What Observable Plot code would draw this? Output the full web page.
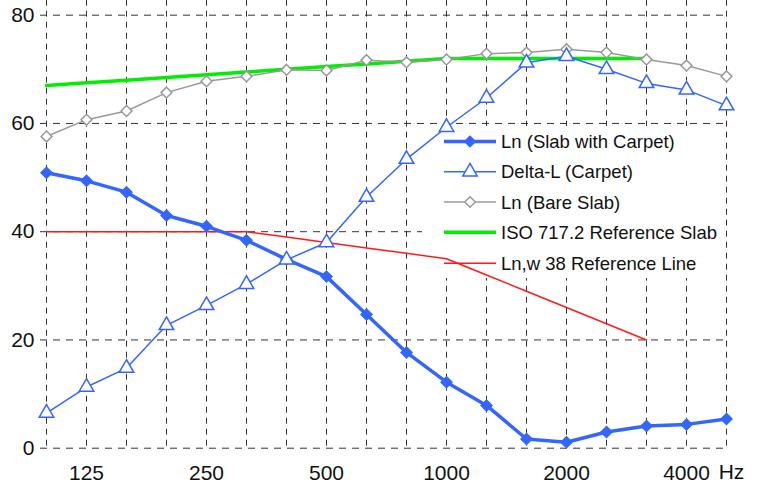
<!DOCTYPE html>
<html>
<head>
<meta charset="utf-8">
<script src="https://cdn.jsdelivr.net/npm/d3@7"></script>
<script src="https://cdn.jsdelivr.net/npm/@observablehq/plot@0.6"></script>
<style>
  html, body { margin: 0; padding: 0; background: #fff; }
  #chart svg { display: block; }
</style>
</head>
<body>
<div id="chart"></div>
<script>
// Third-octave band centre frequencies (Hz)
const bands = ["100","125","160","200","250","315","400","500","630","800","1000","1250","1600","2000","2500","3150","4000","5000"];
const tickLabels = {"125":"125","250":"250","500":"500","1000":"1000","2000":"2000","4000":"4000"};
const unitLabel = "Hz";
const yTicks = [0, 20, 40, 60, 80];

// Series values (dB)
const lnCarpet = [50.9, 49.4, 47.3, 43.0, 41.0, 38.4, 34.9, 31.7, 24.7, 17.7, 12.2, 7.9, 1.7, 1.1, 3.0, 4.1, 4.4, 5.4];
const deltaL   = [6.5, 11.3, 14.8, 22.7, 26.4, 30.3, 34.8, 38.0, 46.4, 53.4, 59.3, 64.7, 71.2, 72.4, 70.0, 67.4, 66.2, 63.3];
const lnBare   = [57.6, 60.7, 62.3, 65.7, 67.8, 68.7, 69.9, 69.8, 71.7, 71.3, 71.8, 72.9, 73.1, 73.7, 73.1, 71.8, 70.7, 68.7];
const isoRef   = [67, 67.5, 68, 68.5, 69, 69.5, 70, 70.5, 71, 71.5, 72, 72, 72, 72, 72, 72];      // 100–3150 Hz
const lnw38Ref = [40, 40, 40, 40, 40, 40, 39, 38, 37, 36, 35, 32, 29, 26, 23, 20];                   // 100–3150 Hz

const seriesNames = ["Ln (Slab with Carpet)", "Delta-L (Carpet)", "Ln (Bare Slab)", "ISO 717.2 Reference Slab", "Ln,w 38 Reference Line"];

const BLUE = "#3366ff", GRAY = "#999999", GREEN = "#00ee00", RED = "#ff1a1a", GRID = "#333333";

const toRows = (vals) => vals.map((v, i) => ({band: bands[i], value: v}));
const rCarpet = toRows(lnCarpet), rDelta = toRows(deltaL), rBare = toRows(lnBare), rIso = toRows(isoRef), rLnw = toRows(lnw38Ref);

// Legend background (white box hides the grid, data lines still drawn over)
const legendBox = (index, scales, values, dims) => {
  const g = d3.create("svg:g");
  g.append("rect").attr("x", 422).attr("y", 126).attr("width", 303).attr("height", 152).attr("fill", "#fff");
  return g.node();
};

const legendItems = (index, scales, values, dims) => {
  const g = d3.create("svg:g")
    .attr("font-family", "'Liberation Sans', Arial, sans-serif")
    .attr("font-size", 18.5)
    .attr("text-anchor", "start")
    .attr("fill", "#111");
  const styles = [
    {stroke: BLUE, sw: 3.5, sym: d3.symbolDiamond2, size: 72, fill: BLUE, mstroke: BLUE},
    {stroke: BLUE, sw: 1.5, sym: d3.symbolTriangle, size: 90, fill: "#fff", mstroke: BLUE},
    {stroke: GRAY, sw: 1.5, sym: d3.symbolDiamond2, size: 72, fill: "#fff", mstroke: GRAY},
    {stroke: GREEN, sw: 3.5, sym: null},
    {stroke: RED, sw: 1.5, sym: null}
  ];
  const rowsY = [141.5, 171.8, 202, 232.3, 263.3];
  seriesNames.forEach((name, i) => {
    const s = styles[i], y = rowsY[i];
    g.append("line").attr("x1", 444).attr("x2", 496).attr("y1", y).attr("y2", y).attr("stroke", s.stroke).attr("stroke-width", s.sw);
    if (s.sym) {
      g.append("path").attr("d", d3.symbol(s.sym, s.size)()).attr("transform", `translate(470,${y})`)
        .attr("fill", s.fill).attr("stroke", s.mstroke).attr("stroke-width", 1.5);
    }
    g.append("text").attr("x", 501).attr("y", y).attr("dy", "0.36em").attr("text-anchor", "start").text(name);
  });
  return g.node();
};

const plot = Plot.plot({
  width: 758,
  height: 483,
  marginLeft: 44,
  marginRight: 31,
  marginTop: 14.7,
  marginBottom: 35.3,
  style: {fontFamily: "'Liberation Sans Narrow', 'Liberation Sans', Arial, sans-serif", background: "#fff", overflow: "visible"},
  x: {type: "point", domain: bands, padding: 0},
  y: {domain: [0, 80]},
  marks: [
    // grid
    Plot.ruleX(bands, {x: d => d, stroke: GRID, strokeWidth: 1, strokeDasharray: "6,5", insetTop: -15}),
    Plot.ruleY(yTicks, {y: d => d, stroke: GRID, strokeWidth: 1, strokeDasharray: "7,6", insetLeft: -4}),
    legendBox,
    // axes
    Plot.axisY({ticks: yTicks, tickSize: 0, tickPadding: 10, fontSize: 21, label: null, fill: "#111"}),
    Plot.axisX({ticks: bands, tickSize: 0, tickPadding: 17, fontSize: 21, label: null, fill: "#111",
      tickFormat: d => tickLabels[d] || ""}),
    Plot.text([unitLabel], {x: () => bands[bands.length - 1], frameAnchor: "bottom", dy: 24.5, dx: 5, fontSize: 21, fill: "#111", lineAnchor: "middle"}),
    // series
    Plot.line(rLnw, {x: "band", y: "value", stroke: RED, strokeWidth: 1.5}),
    Plot.line(rIso, {x: "band", y: "value", stroke: GREEN, strokeWidth: 3.5}),
    Plot.line(rBare, {x: "band", y: "value", stroke: GRAY, strokeWidth: 1.5}),
    Plot.dot(rBare, {x: "band", y: "value", symbol: "diamond2", r: 4.9, fill: "#fff", stroke: GRAY, strokeWidth: 1.5}),
    Plot.line(rCarpet, {x: "band", y: "value", stroke: BLUE, strokeWidth: 3.5}),
    Plot.dot(rCarpet, {x: "band", y: "value", symbol: "diamond2", r: 4.9, fill: BLUE, stroke: BLUE, strokeWidth: 1.5}),
    Plot.line(rDelta, {x: "band", y: "value", stroke: BLUE, strokeWidth: 1.5}),
    Plot.dot(rDelta, {x: "band", y: "value", symbol: "triangle", r: 5.4, fill: "#fff", stroke: BLUE, strokeWidth: 1.5}),
    legendItems
  ]
});
document.getElementById("chart").appendChild(plot);
</script>
</body>
</html>
